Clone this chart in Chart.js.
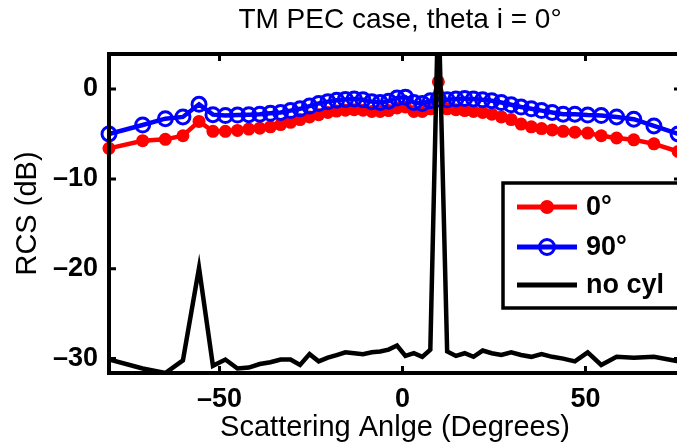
<!DOCTYPE html>
<html>
<head>
<meta charset="utf-8">
<script src="https://cdn.jsdelivr.net/npm/chart.js@4.4.1/dist/chart.umd.min.js"></script>
<style>
  html, body { margin: 0; padding: 0; background: #fff; overflow: hidden; }
</style>
</head>
<body>
<canvas id="rcsChart" width="700" height="447"></canvas>
<script>
// scattering angles (deg)
const angles = [-80.2, -71, -64.8, -60, -55.6, -51.8, -48.4, -45.1, -42, -39,
  -36.1, -33.3, -30.6, -28, -25.4, -22.9, -20.4, -18, -15.6, -13.2,
  -10.8, -8.4, -6.1, -3.8, -1.5, 0.8, 3.1, 5.4, 7.6, 9.8,
  12.2, 14.6, 17, 19.4, 21.9, 24.4, 27, 29.7, 32.4, 35.2,
  38, 40.9, 43.9, 47.1, 50.6, 54.3, 58.5, 63.2, 68.7, 75.3];

const rcs0 = [-6.6, -5.75, -5.6, -5.2, -3.6, -4.7, -4.7, -4.6, -4.45, -4.35,
  -4.2, -3.95, -3.7, -3.4, -3.1, -2.85, -2.6, -2.45, -2.35, -2.3,
  -2.35, -2.5, -2.5, -2.4, -2.1, -2.0, -2.5, -2.5, -2.2, 0.8,
  -2.2, -2.3, -2.4, -2.5, -2.6, -2.8, -3.1, -3.4, -3.9, -4.2,
  -4.4, -4.55, -4.7, -4.8, -4.9, -5.2, -5.45, -5.65, -6.1, -6.95];

const rcs90 = [-5.0, -4.0, -3.3, -3.1, -1.7, -2.85, -2.95, -2.9, -2.85, -2.8,
  -2.7, -2.6, -2.4, -2.2, -1.9, -1.6, -1.4, -1.25, -1.15, -1.1,
  -1.2, -1.4, -1.5, -1.35, -1.0, -0.9, -1.5, -1.6, -1.3, -1.1,
  -1.2, -1.1, -1.05, -1.1, -1.2, -1.3, -1.5, -1.75, -2.0, -2.2,
  -2.4, -2.6, -2.8, -2.8, -2.9, -2.95, -3.1, -3.35, -4.1, -5.0];

const noCyl = [-30.1, -31.1, -31.6, -30.2, -19.9, -30.8, -30.1, -31.1, -31.0, -30.6,
  -30.4, -30.1, -30.1, -30.7, -29.5, -30.3, -29.9, -29.6, -29.3, -29.4,
  -29.5, -29.3, -29.2, -29.0, -28.55, -29.7, -29.4, -29.8, -29.0, 10,
  -29.2, -29.7, -29.4, -29.8, -29.1, -29.4, -29.6, -29.3, -29.6, -29.8,
  -29.5, -29.8, -30.0, -30.3, -29.3, -30.7, -29.8, -29.9, -29.8, -30.3];

const xTicks = [-50, 0, 50];
const yTicks = [-30, -20, -10, 0];
const seriesNames = ['0°', '90°', 'no cyl'];

const FONT = "'Liberation Sans', Arial, Helvetica, sans-serif";
Chart.defaults.font.family = FONT;
Chart.defaults.color = '#000';

function pairs(ys) {
  return angles.map((a, i) => ({ x: a, y: ys[i] }));
}

// MATLAB style minus sign
function fmt(v) {
  return v < 0 ? '\u2013' + Math.abs(v) : String(v);
}

// box, inward ticks, title and legend
const matlabFrame = {
  id: 'matlabFrame',
  afterDatasetsDraw(chart) {
    const { ctx, chartArea: a, scales } = chart;
    ctx.save();
    ctx.strokeStyle = '#000';
    ctx.lineWidth = 3;
    const tl = 7;
    xTicks.forEach(v => {
      const px = scales.x.getPixelForValue(v);
      ctx.beginPath();
      ctx.moveTo(px, a.bottom); ctx.lineTo(px, a.bottom - tl);
      ctx.moveTo(px, a.top); ctx.lineTo(px, a.top + tl);
      ctx.stroke();
    });
    yTicks.forEach(v => {
      const py = scales.y.getPixelForValue(v);
      ctx.beginPath();
      ctx.moveTo(a.left, py); ctx.lineTo(a.left + tl, py);
      ctx.moveTo(a.right, py); ctx.lineTo(a.right - tl, py);
      ctx.stroke();
    });
    ctx.lineWidth = 4;
    ctx.strokeRect(a.left, a.top, a.right - a.left, a.bottom - a.top);

    // title
    ctx.fillStyle = '#000';
    ctx.font = '28px ' + FONT;
    ctx.textAlign = 'center';
    ctx.textBaseline = 'middle';
    ctx.fillText('TM PEC case, theta i = 0°', 400, 20);

    // legend
    const lx = 503, ly = 183, lw = 200, lh = 125;
    ctx.fillStyle = '#fff';
    ctx.fillRect(lx, ly, lw, lh);
    ctx.lineWidth = 3.5;
    ctx.strokeRect(lx, ly, lw, lh);
    const rows = [207, 247, 285];
    const cols = ['#ff0000', '#0000ff', '#000000'];
    rows.forEach((ry, i) => {
      ctx.strokeStyle = cols[i];
      ctx.lineWidth = 5;
      ctx.beginPath();
      ctx.moveTo(517, ry); ctx.lineTo(577, ry);
      ctx.stroke();
      if (i === 0) {
        ctx.fillStyle = cols[i];
        ctx.beginPath(); ctx.arc(547, ry, 7, 0, Math.PI * 2); ctx.fill();
      } else if (i === 1) {
        ctx.lineWidth = 3;
        ctx.beginPath(); ctx.arc(547, ry, 7.5, 0, Math.PI * 2); ctx.stroke();
      }
      ctx.fillStyle = '#000';
      ctx.font = 'bold 27px ' + FONT;
      ctx.textAlign = 'left';
      ctx.textBaseline = 'middle';
      ctx.fillText(seriesNames[i], 586, ry + 1);
    });
    ctx.restore();
  }
};

const ctx = document.getElementById('rcsChart').getContext('2d');
const chart = new Chart(ctx, {
  type: 'line',
  data: {
    datasets: [
      {
        label: seriesNames[0],
        data: pairs(rcs0),
        borderColor: '#ff0000',
        borderWidth: 4.5,
        pointRadius: 6.5,
        pointBackgroundColor: '#ff0000',
        pointBorderWidth: 0,
        clip: false,
        order: 2
      },
      {
        label: seriesNames[1],
        data: pairs(rcs90),
        borderColor: '#0000ff',
        borderWidth: 4.5,
        pointRadius: 7,
        pointBorderColor: '#0000ff',
        pointBackgroundColor: 'rgba(0,0,0,0)',
        pointBorderWidth: 3,
        clip: false,
        order: 1
      },
      {
        label: seriesNames[2],
        data: pairs(noCyl),
        borderColor: '#000000',
        borderWidth: 4.5,
        pointRadius: 0,
        order: 0
      }
    ]
  },
  options: {
    responsive: false,
    animation: false,
    layout: { padding: { top: 54, right: 19, left: 0, bottom: 0 } },
    elements: { line: { tension: 0 } },
    plugins: {
      legend: { display: false },
      tooltip: { enabled: false }
    },
    scales: {
      x: {
        type: 'linear',
        min: -80.2,
        max: 76.1,
        grid: { display: false, drawTicks: false },
        border: { display: false },
        afterBuildTicks: s => { s.ticks = xTicks.map(v => ({ value: v })); },
        afterFit: s => { s.height = 74; },
        ticks: {
          autoSkip: false,
          maxRotation: 0,
          padding: 10,
          font: { size: 27, weight: 'bold' },
          callback: v => fmt(v)
        },
        title: {
          display: true,
          text: 'Scattering Anlge (Degrees)',
          font: { size: 29 },
          padding: { top: 0, bottom: 2 }
        }
      },
      y: {
        min: -31.6,
        max: 3.9,
        grid: { display: false, drawTicks: false },
        border: { display: false },
        afterBuildTicks: s => { s.ticks = yTicks.map(v => ({ value: v })); },
        afterFit: s => { s.width = 109; },
        ticks: {
          autoSkip: false,
          padding: 11,
          font: { size: 27, weight: 'bold' },
          callback: v => fmt(v)
        },
        title: {
          display: true,
          text: 'RCS (dB)',
          font: { size: 29 },
          padding: { top: 11, bottom: 0 }
        }
      }
    }
  },
  plugins: [matlabFrame]
});
</script>
</body>
</html>
